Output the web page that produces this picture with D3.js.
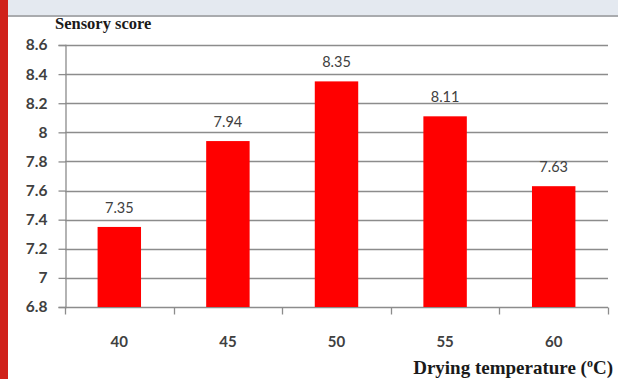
<!DOCTYPE html>
<html>
<head>
<meta charset="utf-8">
<script src="https://cdn.jsdelivr.net/npm/d3@7"></script>
<style>
  html, body { margin: 0; padding: 0; background: #fff; }
  svg { display: block; }
</style>
</head>
<body>
<svg id="chart" width="618" height="379"></svg>
<script>
// Drying temperature (°C) vs. sensory score
const temperatures = ["40", "45", "50", "55", "60"];
const scores = [7.35, 7.94, 8.35, 8.11, 7.63];
const yTicks = [6.8, 7, 7.2, 7.4, 7.6, 7.8, 8, 8.2, 8.4, 8.6];

const svg = d3.select("#chart");
const W = 618, H = 379;
const plot = { left: 65, right: 608, top: 45, bottom: 307 };

// page frame: header strip and red side band
svg.append("rect").attr("x", 0).attr("y", 0).attr("width", W).attr("height", 15).attr("fill", "#e4e9f0");
svg.append("rect").attr("x", 0).attr("y", 15).attr("width", W).attr("height", 2).attr("fill", "#a9abae");
svg.append("rect").attr("x", 0).attr("y", 0).attr("width", 8).attr("height", H).attr("fill", "#d0211a");

const x = d3.scaleBand().domain(temperatures).range([plot.left, plot.right])
  .paddingInner(0.6).paddingOuter(0.3);
const y = d3.scaleLinear().domain([6.8, 8.6]).range([plot.bottom, plot.top]);

// horizontal gridlines
svg.append("g").selectAll("line").data(yTicks.slice(1)).join("line")
  .attr("x1", plot.left).attr("x2", plot.right)
  .attr("y1", d => Math.round(y(d)) + 0.5).attr("y2", d => Math.round(y(d)) + 0.5)
  .attr("stroke", "#8c8c8c").attr("stroke-width", 1.3);

// y axis
const yAxis = d3.axisLeft(y).tickValues(yTicks).tickSize(7).tickPadding(11)
  .tickFormat(d => String(+d.toFixed(1)));
const gy = svg.append("g").attr("transform", `translate(${plot.left + 0.5},0)`).call(yAxis);
gy.select(".domain").attr("stroke", "#8c8c8c").attr("stroke-width", 1.3);
gy.selectAll(".tick line").attr("stroke", "#8c8c8c").attr("stroke-width", 1.3);
gy.selectAll(".tick text").attr("font-family", "Lato").attr("font-size", 15.5)
  .attr("font-weight", "bold").attr("fill", "#404040");

// x axis with ticks at band boundaries
const gx = svg.append("g").attr("transform", `translate(0,${Math.round(y(6.8)) + 0.5})`);
gx.append("line").attr("x1", plot.left).attr("x2", plot.right)
  .attr("stroke", "#8c8c8c").attr("stroke-width", 1.3);
const bounds = temperatures.map(t => x(t) - x.step() * x.paddingOuter()).concat([plot.right]);
gx.selectAll("line.tk").data(bounds).join("line").attr("class", "tk")
  .attr("x1", d => Math.round(d) + 0.5).attr("x2", d => Math.round(d) + 0.5)
  .attr("y1", 0).attr("y2", 7).attr("stroke", "#8c8c8c").attr("stroke-width", 1.3);
gx.selectAll("text").data(temperatures).join("text")
  .attr("x", d => x(d) + x.bandwidth() / 2).attr("y", 39)
  .attr("text-anchor", "middle").attr("font-family", "Lato").attr("font-size", 15)
  .attr("font-weight", "bold").attr("fill", "#404040").text(d => d);

// bars
svg.append("g").selectAll("rect").data(scores).join("rect")
  .attr("x", (d, i) => x(temperatures[i]))
  .attr("width", x.bandwidth())
  .attr("y", d => y(d))
  .attr("height", d => y(6.8) - y(d))
  .attr("fill", "#ff0000");

// value labels
svg.append("g").selectAll("text").data(scores).join("text")
  .attr("x", (d, i) => x(temperatures[i]) + x.bandwidth() / 2)
  .attr("y", d => y(d) - 14)
  .attr("text-anchor", "middle").attr("font-family", "Lato").attr("font-size", 14.5)
  .attr("fill", "#404040").text(d => d.toFixed(2));

// axis titles
svg.append("text").attr("x", 55).attr("y", 29)
  .attr("font-family", "Liberation Serif").attr("font-weight", "bold").attr("font-size", 16.5)
  .attr("fill", "#1a1a1a").text("Sensory score");
const xt = svg.append("text").attr("x", 613).attr("y", 374).attr("text-anchor", "end")
  .attr("font-family", "Liberation Serif").attr("font-weight", "bold").attr("font-size", 19)
  .attr("fill", "#1a1a1a");
xt.append("tspan").text("Drying temperature (");
xt.append("tspan").attr("font-size", 12).attr("dy", -7).text("o");
xt.append("tspan").attr("dy", 7).text("C)");
</script>
</body>
</html>
